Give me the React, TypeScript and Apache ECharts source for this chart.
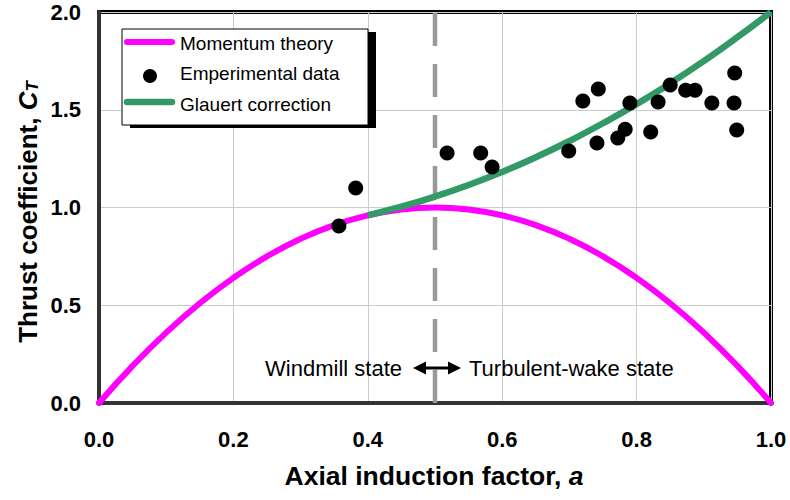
import React, { useEffect, useRef } from "react";
import * as echarts from "echarts";

// Axial induction factor samples for the theoretical curves
const momentumA = [0, 0.05, 0.1, 0.15, 0.2, 0.25, 0.3, 0.35, 0.4, 0.45, 0.5, 0.55, 0.6, 0.65, 0.7, 0.75, 0.8, 0.85, 0.9, 0.95, 1.0];
const momentumCt = [0, 0.19, 0.36, 0.51, 0.64, 0.75, 0.84, 0.91, 0.96, 0.99, 1.0, 0.99, 0.96, 0.91, 0.84, 0.75, 0.64, 0.51, 0.36, 0.19, 0];

const glauertA = [0.4, 0.45, 0.5, 0.55, 0.6, 0.65, 0.7, 0.75, 0.8, 0.85, 0.9, 0.95, 1.0];
const glauertCt = [0.96, 1.004, 1.056, 1.115, 1.182, 1.257, 1.34, 1.431, 1.529, 1.635, 1.749, 1.871, 2.0];

// Measured thrust coefficients
const experimentA = [0.357, 0.382, 0.518, 0.568, 0.585, 0.699, 0.72, 0.743, 0.741, 0.772, 0.783, 0.79, 0.821, 0.832, 0.85, 0.873, 0.887, 0.912, 0.946, 0.945, 0.949];
const experimentCt = [0.905, 1.1, 1.279, 1.279, 1.207, 1.289, 1.545, 1.606, 1.33, 1.355, 1.4, 1.535, 1.386, 1.54, 1.627, 1.6, 1.6, 1.535, 1.688, 1.535, 1.396];

// Boundary between windmill and turbulent-wake states
const stateBoundaryA = 0.5;

const legendLabels = ["Momentum theory", "Emperimental data", "Glauert correction"];
const xTitle = "Axial induction factor, ";
const yTitle = "Thrust coefficient, ";

const FONT = 'Arial, "Liberation Sans", Helvetica, sans-serif';
const MAGENTA = "#ff00ff";
const GREEN = "#339966";

export default function App() {
  const ref = useRef<HTMLDivElement>(null);

  useEffect(() => {
    if (!ref.current) return;
    const chart = echarts.init(ref.current, null, { renderer: "svg" });

    const pairs = (xs: number[], ys: number[]) => xs.map((x, i) => [x, ys[i]]);

    const legendText = (text: string, y: number) => ({
      type: "text",
      x: 180,
      y,
      z: 102,
      style: { text, fontFamily: FONT, fontSize: 19, fill: "#000", align: "left", verticalAlign: "middle" },
    });

    const option: any = {
      animation: false,
      backgroundColor: "#fff",
      grid: {
        left: 99,
        right: 19,
        top: 12,
        bottom: 97,
        show: true,
        borderColor: "#000",
        borderWidth: 4,
        backgroundColor: "transparent",
      },
      xAxis: {
        type: "value",
        min: 0,
        max: 1,
        interval: 0.2,
        axisLine: { show: true, onZero: false, lineStyle: { color: "#333", width: 4 } },
        axisTick: { show: false },
        splitLine: { show: true, lineStyle: { color: "#cccccc", width: 1 } },
        axisLabel: {
          margin: 25,
          fontFamily: FONT,
          fontSize: 22,
          fontWeight: "bold",
          color: "#000",
          formatter: (v: number) => v.toFixed(1),
        },
      },
      yAxis: {
        type: "value",
        min: 0,
        max: 2,
        interval: 0.5,
        axisLine: { show: true, onZero: false, lineStyle: { color: "#333", width: 4 } },
        axisTick: { show: false },
        splitLine: { show: true, lineStyle: { color: "#cccccc", width: 1 } },
        axisLabel: {
          margin: 18,
          fontFamily: FONT,
          fontSize: 22,
          fontWeight: "bold",
          color: "#000",
          formatter: (v: number) => v.toFixed(1),
        },
      },
      series: [
        {
          name: "state boundary",
          type: "line",
          data: [[stateBoundaryA, 0], [stateBoundaryA, 2]],
          symbol: "none",
          lineStyle: { color: "#999999", width: 4.5, type: [33, 18] },
          z: 1,
          silent: true,
        },
        {
          name: legendLabels[0],
          type: "line",
          data: pairs(momentumA, momentumCt),
          smooth: true,
          symbol: "none",
          lineStyle: { color: MAGENTA, width: 6, cap: "round" },
          z: 2,
        },
        {
          name: legendLabels[2],
          type: "line",
          data: pairs(glauertA, glauertCt),
          smooth: true,
          symbol: "none",
          lineStyle: { color: GREEN, width: 6.5 },
          z: 3,
        },
        {
          name: legendLabels[1],
          type: "scatter",
          data: pairs(experimentA, experimentCt),
          symbol: "circle",
          symbolSize: 15,
          itemStyle: { color: "#000", opacity: 1 },
          z: 4,
        },
      ],
      graphic: [
        // legend box with offset shadow
        { type: "rect", z: 100, shape: { x: 130, y: 32, width: 246, height: 96 }, style: { fill: "#000" } },
        { type: "rect", z: 101, shape: { x: 122, y: 29, width: 246, height: 96 }, style: { fill: "#fff", stroke: "#000", lineWidth: 1 } },
        { type: "line", z: 102, shape: { x1: 127, y1: 42, x2: 172, y2: 42 }, style: { stroke: MAGENTA, lineWidth: 6, lineCap: "round" } },
        { type: "circle", z: 102, shape: { cx: 150, cy: 76, r: 7 }, style: { fill: "#000" } },
        { type: "line", z: 102, shape: { x1: 127, y1: 102, x2: 172, y2: 102 }, style: { stroke: GREEN, lineWidth: 6.5, lineCap: "round" } },
        legendText(legendLabels[0], 43),
        legendText(legendLabels[1], 73),
        legendText(legendLabels[2], 104),

        // state annotations and double-headed arrow
        {
          type: "text",
          x: 402,
          y: 368,
          z: 50,
          style: { text: "Windmill state", fontFamily: FONT, fontSize: 22, fill: "#000", align: "right", verticalAlign: "middle" },
        },
        {
          type: "text",
          x: 469,
          y: 368,
          z: 50,
          style: { text: "Turbulent-wake state", fontFamily: FONT, fontSize: 22, fill: "#000", align: "left", verticalAlign: "middle" },
        },
        { type: "line", z: 50, shape: { x1: 422, y1: 368, x2: 452, y2: 368 }, style: { stroke: "#000", lineWidth: 3 } },
        { type: "polygon", z: 50, shape: { points: [[413, 368], [426, 361.5], [426, 374.5]] }, style: { fill: "#000" } },
        { type: "polygon", z: 50, shape: { points: [[461, 368], [448, 361.5], [448, 374.5]] }, style: { fill: "#000" } },

        // axis titles
        {
          type: "text",
          x: 434,
          y: 476,
          z: 50,
          style: {
            text: "{b|" + xTitle + "}{i|a}",
            align: "center",
            verticalAlign: "middle",
            rich: {
              b: { fontFamily: FONT, fontSize: 26.5, fontWeight: "bold", fill: "#000" },
              i: { fontFamily: FONT, fontSize: 26.5, fontWeight: "bold", fontStyle: "italic", fill: "#000" },
            },
          },
        },
        {
          type: "text",
          x: 26,
          y: 212,
          z: 50,
          rotation: Math.PI / 2,
          style: {
            text: "{b|" + yTitle + "}{i|C}{s|T}",
            align: "center",
            verticalAlign: "middle",
            rich: {
              b: { fontFamily: FONT, fontSize: 26, fontWeight: "bold", fill: "#000", lineHeight: 30, verticalAlign: "bottom" },
              i: { fontFamily: FONT, fontSize: 26, fontWeight: "bold", fontStyle: "italic", fill: "#000", lineHeight: 30, verticalAlign: "bottom" },
              s: { fontFamily: FONT, fontSize: 17, fontWeight: "bold", fontStyle: "italic", fill: "#000", lineHeight: 30, verticalAlign: "bottom", padding: [8, 0, 0, 0] },
            },
          },
        },
      ],
    };

    chart.setOption(option);
    return () => chart.dispose();
  }, []);

  return <div ref={ref} style={{ width: 790, height: 500, position: "absolute", left: 0, top: 0 }} />;
}
